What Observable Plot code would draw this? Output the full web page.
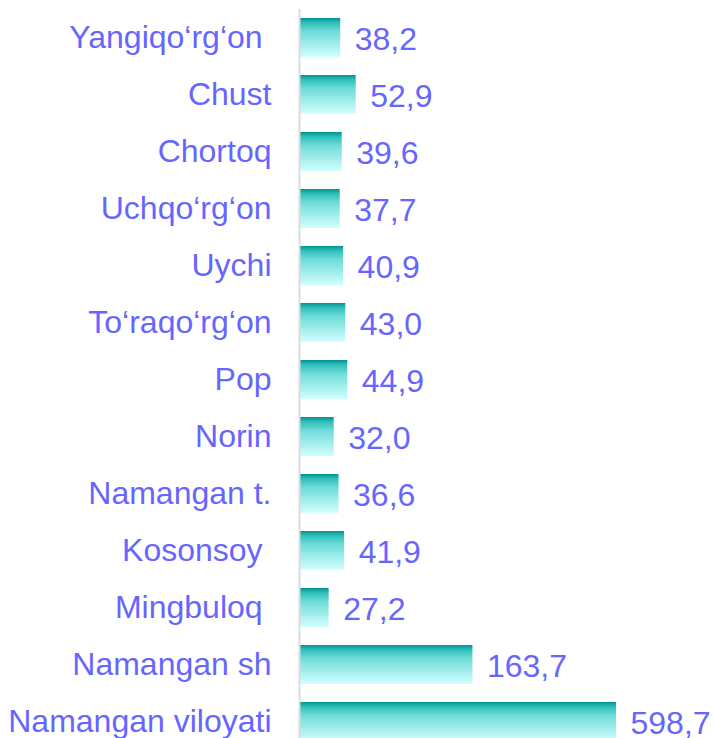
<!DOCTYPE html>
<html><head><meta charset="utf-8">
<script src="https://cdn.jsdelivr.net/npm/d3@7"></script>
<script src="https://cdn.jsdelivr.net/npm/@observablehq/plot@0.6"></script>
<style>
html,body{margin:0;padding:0;background:#fff;overflow:hidden}
svg text{white-space:pre}
</style></head><body><div id="chart"></div>
<script>
const categories = ["Yangiqo‘rg‘on ", "Chust", "Chortoq", "Uchqo‘rg‘on", "Uychi", "To‘raqo‘rg‘on", "Pop", "Norin", "Namangan t.", "Kosonsoy ", "Mingbuloq ", "Namangan sh", "Namangan viloyati"];
const values = [38.2, 52.9, 39.6, 37.7, 40.9, 43.0, 44.9, 32.0, 36.6, 41.9, 27.2, 163.7, 598.7];
const axisMax = 300;

const data = categories.map((c, i) => ({district: c, value: values[i]}));
const fmt = v => d3.format(".1f")(v).replace(".", ",");
const textColor = "#6666ff";
const font = 32;

const defs = () => {
  const ns = "http://www.w3.org/2000/svg";
  const d = document.createElementNS(ns, "defs");
  d.innerHTML = `<linearGradient id="barGrad" x1="0" y1="0" x2="0" y2="1">
    <stop offset="0" stop-color="#00928f"/>
    <stop offset="0.12" stop-color="#2fbfbb"/>
    <stop offset="0.35" stop-color="#6fdcd8"/>
    <stop offset="0.7" stop-color="#a6efec"/>
    <stop offset="1" stop-color="#d2ffff"/>
  </linearGradient>`;
  return d;
};

const chart = Plot.plot({
  width: 714, height: 738,
  marginTop: 9, marginBottom: 0, marginLeft: 300, marginRight: 0,
  style: {fontFamily: "'Liberation Sans', Arial, sans-serif", background: "#fff"},
  x: {domain: [0, axisMax], range: [300, 616], clamp: true, axis: null},
  y: {domain: categories, range: [9, 750], paddingInner: 0.316, paddingOuter: 0.158, label: null},
  marks: [
    defs,
    Plot.barX(data, {x: "value", y: "district", fill: "url(#barGrad)"}),
    Plot.ruleX([0], {stroke: "#dcdcdc", strokeWidth: 2, dx: -1}),
    Plot.axisY({tickSize: 0, tickPadding: 29, fontSize: font, color: textColor, label: null}),
    Plot.text(data, {x: "value", y: "district", text: d => fmt(d.value), textAnchor: "start", dx: 14, dy: 2, fontSize: font, fill: textColor})
  ]
});
document.getElementById("chart").appendChild(chart);
</script>
</body></html>
